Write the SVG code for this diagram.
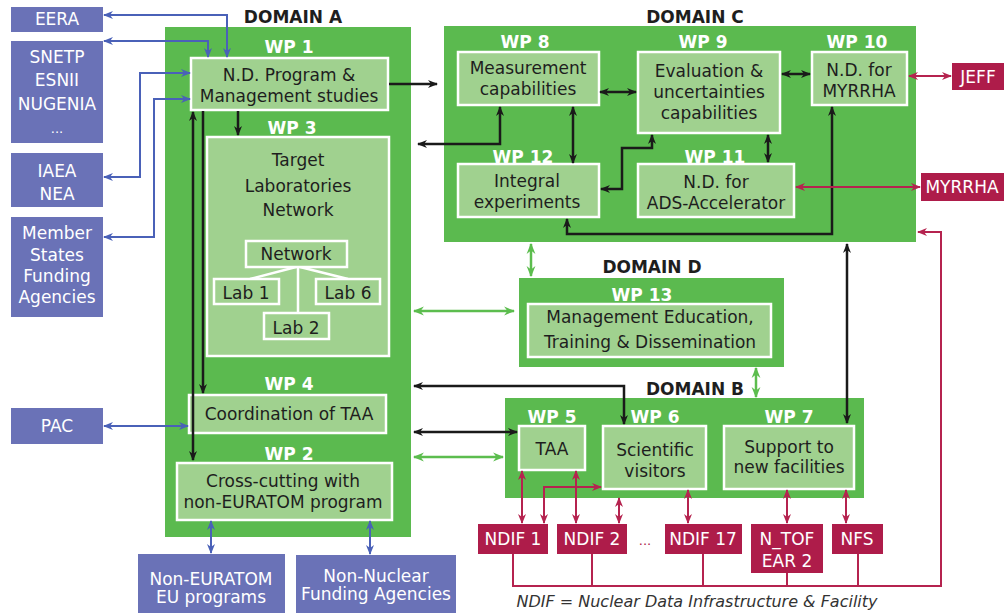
<svg xmlns="http://www.w3.org/2000/svg" width="1007" height="613" viewBox="0 0 1007 613">
<style>
.dom{fill:#5bba4f}
.box{fill:#a0d18f;stroke:#fff;stroke-width:2.5}
.ext{fill:#6a72b7}
.red{fill:#ae1c4a}
text{font-family:"DejaVu Sans","Liberation Sans",sans-serif;text-anchor:middle}
.t{font-size:17px;fill:#1e1e1e}
.w{font-size:17px;fill:#fff}
.wp{font-size:17px;font-weight:bold;fill:#fff}
.dl{font-size:17px;font-weight:bold;fill:#1e1e1e}
.cap{font-size:16px;font-style:italic;fill:#333}
.k{fill:none;stroke:#1a1a1a;stroke-width:2.5}
.b{fill:none;stroke:#4a61b8;stroke-width:2}
.r{fill:none;stroke:#b5234f;stroke-width:2}
.g{fill:none;stroke:#5cbd4e;stroke-width:2.5}
.ln{fill:none;stroke:#fff;stroke-width:2.5}
</style>
<defs>
<marker id="ak" viewBox="0 0 10 10" refX="9" refY="5" markerWidth="10" markerHeight="10" markerUnits="userSpaceOnUse" orient="auto-start-reverse"><path d="M0,1 L10,5 L0,9 L3,5 z" fill="#1a1a1a"/></marker>
<marker id="ab" viewBox="0 0 10 10" refX="9" refY="5" markerWidth="10" markerHeight="10" markerUnits="userSpaceOnUse" orient="auto-start-reverse"><path d="M0,1 L10,5 L0,9 L3,5 z" fill="#4a61b8"/></marker>
<marker id="ar" viewBox="0 0 10 10" refX="9" refY="5" markerWidth="10" markerHeight="10" markerUnits="userSpaceOnUse" orient="auto-start-reverse"><path d="M0,1 L10,5 L0,9 L3,5 z" fill="#b5234f"/></marker>
<marker id="ag" viewBox="0 0 10 10" refX="9" refY="5" markerWidth="11" markerHeight="11" markerUnits="userSpaceOnUse" orient="auto-start-reverse"><path d="M0,1 L10,5 L0,9 L3,5 z" fill="#5cbd4e"/></marker>
</defs>

<!-- Domains -->
<g id="domainA"><rect class="dom" x="165" y="27" width="246" height="510"/><text class="dl" x="293" y="23">DOMAIN A</text></g>
<g id="domainC"><rect class="dom" x="444" y="26" width="472" height="216"/><text class="dl" x="695" y="23">DOMAIN C</text></g>
<g id="domainD"><rect class="dom" x="519" y="278" width="265" height="89"/><text class="dl" x="652" y="273">DOMAIN D</text></g>
<g id="domainB"><rect class="dom" x="505" y="398" width="359" height="100"/><text class="dl" x="695" y="395">DOMAIN B</text></g>

<!-- External boxes -->
<g id="eera"><rect class="ext" x="11" y="7" width="92" height="25"/><text class="w" x="57" y="25">EERA</text></g>
<g id="snetp"><rect class="ext" x="11" y="41" width="92" height="102"/><text class="w" x="57" y="63">SNETP</text><text class="w" x="57" y="86">ESNII</text><text class="w" x="57" y="110">NUGENIA</text><text class="w" x="57" y="133" style="font-size:13px">...</text></g>
<g id="iaea"><rect class="ext" x="11" y="153" width="92" height="54"/><text class="w" x="57" y="177">IAEA</text><text class="w" x="57" y="200">NEA</text></g>
<g id="member"><rect class="ext" x="11" y="217" width="92" height="100"/><text class="w" x="57" y="239">Member</text><text class="w" x="57" y="261">States</text><text class="w" x="57" y="282">Funding</text><text class="w" x="57" y="303">Agencies</text></g>
<g id="pac"><rect class="ext" x="11" y="408" width="92" height="36"/><text class="w" x="57" y="432">PAC</text></g>
<g id="noneuratom"><rect class="ext" x="138" y="554" width="147" height="59"/><text class="w" x="211" y="585">Non-EURATOM</text><text class="w" x="211" y="603">EU programs</text></g>
<g id="nonnuclear"><rect class="ext" x="296" y="555" width="160" height="58"/><text class="w" x="376" y="582">Non-Nuclear</text><text class="w" x="376" y="600">Funding Agencies</text></g>

<!-- Domain A WPs -->
<g id="wp1"><text class="wp" x="289" y="53">WP 1</text><rect class="box" x="191" y="58" width="197" height="52"/><text class="t" x="289" y="81">N.D. Program &amp;</text><text class="t" x="289" y="102">Management studies</text></g>
<g id="wp3"><text class="wp" x="292" y="134">WP 3</text><rect class="box" x="207" y="137" width="182" height="219"/><text class="t" x="298" y="166">Target</text><text class="t" x="298" y="192">Laboratories</text><text class="t" x="298" y="216">Network</text>
<path class="ln" d="M296,267 L250,279 M298,267 V313 M300,267 L348,279"/>
<rect class="box" x="246" y="241" width="101" height="26"/><text class="t" x="296" y="260">Network</text>
<rect class="box" x="214" y="279" width="65" height="25"/><text class="t" x="246" y="299">Lab 1</text>
<rect class="box" x="316" y="279" width="64" height="25"/><text class="t" x="348" y="299">Lab 6</text>
<rect class="box" x="264" y="313" width="65" height="26"/><text class="t" x="296" y="334">Lab 2</text></g>
<g id="wp4"><text class="wp" x="289" y="390">WP 4</text><rect class="box" x="189" y="395" width="197" height="38"/><text class="t" x="289" y="420">Coordination of TAA</text></g>
<g id="wp2"><text class="wp" x="289" y="460">WP 2</text><rect class="box" x="177" y="463" width="215" height="57"/><text class="t" x="283" y="487">Cross-cutting with</text><text class="t" x="283" y="508">non-EURATOM program</text></g>

<!-- Domain C WPs -->
<g id="wp8"><text class="wp" x="525" y="48">WP 8</text><rect class="box" x="458" y="52" width="141" height="53"/><text class="t" x="528" y="74">Measurement</text><text class="t" x="528" y="95">capabilities</text></g>
<g id="wp9"><text class="wp" x="703" y="48">WP 9</text><rect class="box" x="638" y="52" width="142" height="81"/><text class="t" x="709" y="77">Evaluation &amp;</text><text class="t" x="709" y="98">uncertainties</text><text class="t" x="709" y="119">capabilities</text></g>
<g id="wp10"><text class="wp" x="857" y="48">WP 10</text><rect class="box" x="812" y="52" width="95" height="53"/><text class="t" x="859" y="76">N.D. for</text><text class="t" x="859" y="97">MYRRHA</text></g>
<g id="wp12"><text class="wp" x="523" y="163">WP 12</text><rect class="box" x="458" y="164" width="141" height="53"/><text class="t" x="527" y="187">Integral</text><text class="t" x="527" y="208">experiments</text></g>
<g id="wp11"><text class="wp" x="715" y="163">WP 11</text><rect class="box" x="638" y="164" width="156" height="53"/><text class="t" x="716" y="188">N.D. for</text><text class="t" x="716" y="209">ADS-Accelerator</text></g>

<!-- Domain D -->
<g id="wp13"><text class="wp" x="642" y="301">WP 13</text><rect class="box" x="528" y="304" width="243" height="53"/><text class="t" x="650" y="323">Management Education,</text><text class="t" x="650" y="348">Training &amp; Dissemination</text></g>

<!-- Domain B -->
<g id="wp5"><text class="wp" x="552" y="423">WP 5</text><rect class="box" x="519" y="426" width="66" height="44"/><text class="t" x="552" y="455">TAA</text></g>
<g id="wp6"><text class="wp" x="655" y="423">WP 6</text><rect class="box" x="603" y="426" width="103" height="63"/><text class="t" x="655" y="456">Scientific</text><text class="t" x="655" y="477">visitors</text></g>
<g id="wp7"><text class="wp" x="789" y="423">WP 7</text><rect class="box" x="724" y="426" width="130" height="63"/><text class="t" x="789" y="453">Support to</text><text class="t" x="789" y="473">new facilities</text></g>

<!-- Red external -->
<g id="jeff"><rect class="red" x="952" y="63" width="52" height="27"/><text class="w" x="978" y="83">JEFF</text></g>
<g id="myrrha"><rect class="red" x="921" y="173" width="83" height="28"/><text class="w" x="962" y="193">MYRRHA</text></g>
<g id="ndif1"><rect class="red" x="478" y="524" width="70" height="30"/><text class="w" x="513" y="545">NDIF 1</text></g>
<g id="ndif2"><rect class="red" x="557" y="524" width="70" height="30"/><text class="w" x="592" y="545">NDIF 2</text></g>
<g id="dots"><text class="t" x="645" y="545" style="fill:#ae1c4a;font-size:13px">...</text></g>
<g id="ndif17"><rect class="red" x="665" y="524" width="77" height="30"/><text class="w" x="703" y="545">NDIF 17</text></g>
<g id="ntof"><rect class="red" x="751" y="524" width="72" height="49"/><text class="w" x="787" y="545">N_TOF</text><text class="w" x="787" y="567">EAR 2</text></g>
<g id="nfs"><rect class="red" x="832" y="524" width="51" height="30"/><text class="w" x="857" y="545">NFS</text></g>
<g id="caption"><text class="cap" x="697" y="607">NDIF = Nuclear Data Infrastructure &amp; Facility</text></g>

<!-- Connectors -->
<g id="connectors">
<g marker-start="url(#ab)" marker-end="url(#ab)">
<path class="b" d="M227,57 V15 H104"/>
<path class="b" d="M208,57 V41 H104"/>
<path class="b" d="M190,73 H140 V177 H104"/>
<path class="b" d="M190,99 H154 V237 H104"/>
<path class="b" d="M104,426 H188"/>
<path class="b" d="M211,521 V553"/>
<path class="b" d="M370,521 V554"/>
</g>
<path class="k" d="M238,111 V135" marker-end="url(#ak)"/>
<path class="k" d="M203,111 V393" marker-end="url(#ak)"/>
<path class="k" d="M389,84 H437" marker-end="url(#ak)"/>
<g marker-start="url(#ak)" marker-end="url(#ak)">
<path class="k" d="M193,112 V460"/>
<path class="k" d="M500,107 V144 H418"/>
<path class="k" d="M600,92 H636"/>
<path class="k" d="M782,74 H810"/>
<path class="k" d="M573,107 V163"/>
<path class="k" d="M768,135 V162"/>
<path class="k" d="M652,135 V148 H622 V189 H601"/>
<path class="k" d="M832,107 V234 H567 V219"/>
<path class="k" d="M847,244 V423"/>
<path class="k" d="M624,424 V386 H414"/>
<path class="k" d="M414,432 H517"/>
</g>
<g marker-start="url(#ag)" marker-end="url(#ag)">
<path class="g" d="M531,244 V276"/>
<path class="g" d="M414,311 H514"/>
<path class="g" d="M756,368 V397"/>
<path class="g" d="M414,457 H503"/>
</g>
<g marker-start="url(#ar)" marker-end="url(#ar)">
<path class="r" d="M909,76 H951"/>
<path class="r" d="M796,187 H920"/>
<path class="r" d="M522,471 V523"/>
<path class="r" d="M544,523 V487 H601"/>
<path class="r" d="M576,471 V523"/>
<path class="r" d="M619,498 V523"/>
<path class="r" d="M688,490 V523"/>
<path class="r" d="M787,490 V523"/>
<path class="r" d="M846,490 V523"/>
</g>
<path class="r" d="M513,554 V586 H941 V232 H918" marker-end="url(#ar)"/>
<path class="r" d="M592,554 V586 M703,554 V586 M787,573 V586 M858,554 V586"/>
</g>
</svg>
